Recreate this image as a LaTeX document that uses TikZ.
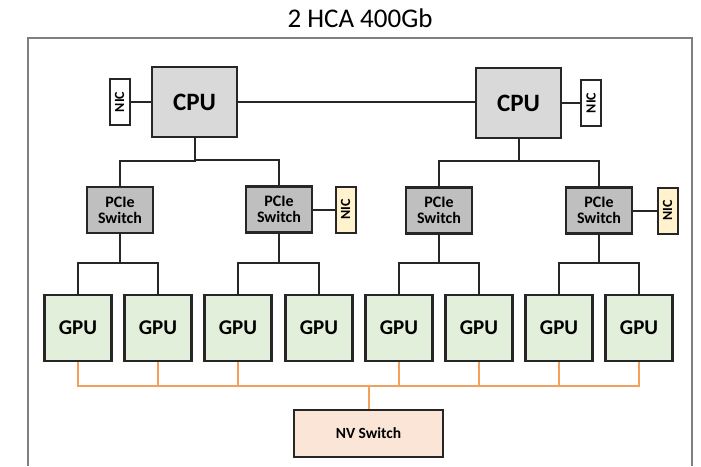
\documentclass[tikz,border=0pt]{standalone}
\usepackage{fontspec}
\setmainfont{Carlito}
\definecolor{cpufill}{HTML}{D9D9D9}
\definecolor{swfill}{HTML}{BFBFBF}
\definecolor{nicy}{HTML}{FFF2CC}
\definecolor{gpufill}{HTML}{E2EFDA}
\definecolor{nvfill}{HTML}{FBE5D6}
\definecolor{orng}{HTML}{F5A05A}
\definecolor{framec}{HTML}{7F7F7F}
\begin{document}
\begin{tikzpicture}[x=1pt,y=-1pt,
  box/.style={draw=black!85,line width=2.3pt,inner sep=0pt,align=center,font=\bfseries},
  cpubox/.style={box,fill=cpufill,minimum width=85pt,minimum height=70pt,font=\bfseries\fontsize{25}{26}\selectfont},
  nicbox/.style={box,line width=2pt,minimum width=20pt,minimum height=46pt},
  nictext/.style={rotate=90,font=\bfseries\fontsize{14}{15}\selectfont},
  swbox/.style={box,fill=swfill,minimum width=66pt,minimum height=46pt,font=\bfseries\fontsize{16}{16}\selectfont},
  gpubox/.style={box,fill=gpufill,minimum width=67pt,minimum height=66pt,font=\bfseries\fontsize{21}{22}\selectfont},
  nvbox/.style={box,fill=nvfill,minimum width=149pt,minimum height=47pt,font=\bfseries\fontsize{15.5}{16}\selectfont},
  link/.style={draw=black!85,line width=2pt},
  nvlink/.style={draw=orng,line width=2pt}]
\useasboundingbox (0,0) rectangle (701,466);
\fill[white] (0,0) rectangle (701,466);
% frame
\coordinate (fbl) at (28,466);
\coordinate (ftl) at (28,38);
\coordinate (ftr) at (692,38);
\coordinate (fbr) at (692,466);
\draw[framec,line width=1.6pt] (fbl) -- (ftl) -- (ftr) -- (fbr);
\node[font=\fontsize{27}{28}\selectfont] (title) at (360,18) {2 HCA 400Gb};
% CPUs
\node[cpubox] (cpuL) at (194.5,102) {CPU};
\node[cpubox] (cpuR) at (518.5,103) {CPU};
\node[nicbox,fill=white] (nicL) at (119.5,102) {};
\node[nictext] (nicLt) at (nicL) {NIC};
\node[nicbox,fill=white] (nicR) at (591,103) {};
\node[nictext] (nicRt) at (nicR) {NIC};
% PCIe switches
\node[swbox] (sw1) at (120,210) {PCIe\\Switch};
\node[swbox] (sw2) at (279,209.5) {PCIe\\Switch};
\node[swbox] (sw3) at (439,210.5) {PCIe\\Switch};
\node[swbox] (sw4) at (599,210.5) {PCIe\\Switch};
\node[nicbox,fill=nicy] (nic2) at (345.5,209.5) {};
\node[nictext] (nic2t) at (nic2) {NIC};
\node[nicbox,fill=nicy] (nic4) at (667.5,210.5) {};
\node[nictext] (nic4t) at (nic4) {NIC};
% GPUs
\foreach \i/\x in {1/78,2/158,3/238,4/319,5/399,6/479,7/559,8/639}
  \node[gpubox] (gpu\i) at (\x,328) {GPU};
% NV switch
\node[nvbox] (nv) at (368.5,433.5) {NV Switch};
% links
\draw[link] (nicL) -- (cpuL);
\draw[link] (cpuR) -- (nicR);
\draw[link] (cpuL.east) -- (cpuL.east -| cpuR.west);
\draw[link] (sw2) -- (nic2);
\draw[link] (sw4) -- (nic4);
\draw[link] (sw1.north) -- ++(0,-25) -| (cpuL.south);
\draw[link] (sw2.north) -- ++(0,-25) -| (cpuL.south);
\draw[link] (sw3.north) -- ++(0,-25) -| (cpuR.south);
\draw[link] (sw4.north) -- ++(0,-25) -| (cpuR.south);
\draw[link] (gpu1.north) -- ++(0,-31) -| (sw1.south);
\draw[link] (gpu2.north) -- ++(0,-31) -| (sw1.south);
\draw[link] (gpu3.north) -- ++(0,-31) -| (sw2.south);
\draw[link] (gpu4.north) -- ++(0,-31) -| (sw2.south);
\draw[link] (gpu5.north) -- ++(0,-31) -| (sw3.south);
\draw[link] (gpu6.north) -- ++(0,-31) -| (sw3.south);
\draw[link] (gpu7.north) -- ++(0,-31) -| (sw4.south);
\draw[link] (gpu8.north) -- ++(0,-31) -| (sw4.south);
\foreach \i in {1,2,3,5,6,7,8}
  \draw[nvlink] (gpu\i.south) -- ++(0,24) -| (nv.north);
\end{tikzpicture}
\end{document}
